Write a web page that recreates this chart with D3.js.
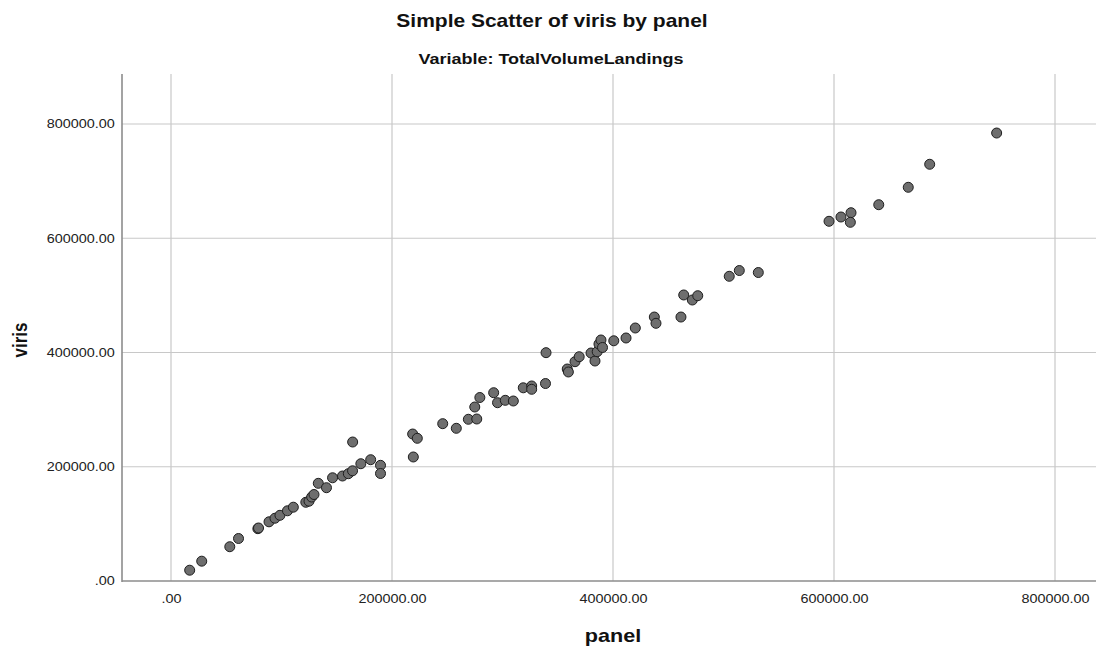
<!DOCTYPE html>
<html>
<head>
<meta charset="utf-8">
<script src="https://cdn.jsdelivr.net/npm/d3@7"></script>
<style>
  body { margin: 0; background: #fff; }
  text { font-family: "Liberation Sans", Arial, sans-serif; }
</style>
</head>
<body>
<script>
// panel (x) values
var panel = [16900, 27800, 53200, 61100, 78600, 79200, 88700, 94100, 98600, 105400,
  110700, 122000, 124900, 127300, 129400, 133300, 140700, 146200, 155200, 160500,
  164300, 164400, 171800, 180700, 189600, 189600, 218700, 222900, 219300, 245900,
  258200, 269100, 276700, 274900, 279500, 292000, 295500, 302500, 309800, 318800,
  326400, 326400, 338900, 339400, 358600, 359600, 365600, 369400, 380100, 383700,
  385700, 387300, 389100, 390500, 400700, 411800, 420200, 437400, 438900, 461500,
  464000, 471800, 476700, 505200, 514300, 531500, 595500, 606300, 615400, 614800,
  640500, 667200, 686600, 747200];
// viris (y) values
var viris = [18900, 34700, 60000, 74400, 91600, 92800, 103600, 109900, 115000, 122900,
  129200, 137800, 139700, 147000, 151400, 171000, 163300, 180700, 183800, 187800,
  192900, 243300, 205300, 212300, 202500, 188200, 257300, 249800, 217100, 275400,
  267300, 283100, 283600, 304600, 321200, 329600, 312100, 316300, 315100, 338200,
  341400, 335600, 345700, 399700, 371100, 365900, 383900, 392600, 399100, 385100,
  401400, 414900, 421900, 408800, 420500, 425400, 442900, 462100, 451100, 462100,
  500700, 491900, 499400, 533400, 543500, 540000, 629700, 637200, 644700, 627900,
  658700, 689200, 729500, 784200];
var xTicks = [0, 200000, 400000, 600000, 800000];
var yTicks = [0, 200000, 400000, 600000, 800000];

var W = 1096, H = 648;
var svg = d3.select("body").append("svg").attr("width", W).attr("height", H);

var x = d3.scaleLinear().domain([0, 800000]).range([171, 1055]);
var y = d3.scaleLinear().domain([0, 800000]).range([581, 124]);
var plotLeft = 122, plotRight = W, plotTop = 74, plotBottom = 581;
var stretch = 1.2; // text in the original is a little wide

var fmt = function(d) { return d === 0 ? ".00" : d3.format(".2f")(d); };

// gridlines
svg.append("g").selectAll("line").data(xTicks).enter().append("line")
    .attr("x1", d => x(d)).attr("x2", d => x(d))
    .attr("y1", plotTop).attr("y2", plotBottom)
    .attr("stroke", "#c8c8c8").attr("stroke-width", 1.2);
svg.append("g").selectAll("line").data(yTicks.filter(d => d > 0)).enter().append("line")
    .attr("x1", plotLeft).attr("x2", plotRight)
    .attr("y1", d => y(d)).attr("y2", d => y(d))
    .attr("stroke", "#c8c8c8").attr("stroke-width", 1.2);

// axes
var xAxis = svg.append("g").attr("transform", "translate(0," + plotBottom + ")")
    .call(d3.axisBottom(x).tickValues(xTicks).tickFormat(fmt).tickSize(0).tickPadding(13));
var yAxis = svg.append("g").attr("transform", "translate(" + plotLeft + ",0)")
    .call(d3.axisLeft(y).tickValues(yTicks).tickFormat(fmt).tickSize(0).tickPadding(6));
[xAxis, yAxis].forEach(function(g) {
  g.select(".domain").remove();
  g.selectAll("text").attr("font-size", 12).attr("fill", "#222")
      .attr("font-family", "Liberation Sans, Arial, sans-serif")
      .attr("transform", "scale(" + stretch + ",1)");
});
svg.append("line").attr("x1", plotLeft).attr("x2", plotLeft).attr("y1", plotTop).attr("y2", plotBottom + 1)
    .attr("stroke", "#8c8c8c").attr("stroke-width", 1.6);
svg.append("line").attr("x1", plotLeft).attr("x2", plotRight).attr("y1", plotBottom).attr("y2", plotBottom)
    .attr("stroke", "#8c8c8c").attr("stroke-width", 1.6);

// points
svg.append("g").selectAll("circle").data(d3.range(panel.length)).enter().append("circle")
    .attr("cx", i => x(panel[i])).attr("cy", i => y(viris[i]))
    .attr("r", 5)
    .attr("fill", "#6e6e6e").attr("stroke", "#1e1e1e").attr("stroke-width", 1);

// titles
function label(cx, cy, size, txt, rot) {
  svg.append("text")
      .attr("transform", "translate(" + cx + "," + cy + ") scale(" + stretch + ",1)" + (rot ? " rotate(" + rot + ")" : ""))
      .attr("text-anchor", "middle")
      .attr("font-size", size).attr("font-weight", "bold").attr("fill", "#111")
      .text(txt);
}
label(552, 27, 17.5, "Simple Scatter of viris by panel");
label(551, 64, 15, "Variable: TotalVolumeLandings");
label(613, 642, 18, "panel");
label(27, 340, 17, "viris", -90);
</script>
</body>
</html>
